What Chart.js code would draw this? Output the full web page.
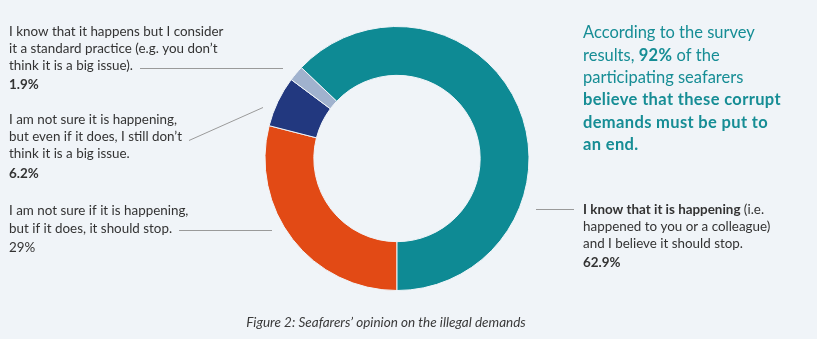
<!DOCTYPE html>
<html>
<head>
<meta charset="utf-8">
<script src="https://cdn.jsdelivr.net/npm/chart.js@4.4.1/dist/chart.umd.min.js"></script>
<style>
    html, body { margin: 0; padding: 0; background: #f0f4f8; }
    #wrap { position: relative; width: 817px; height: 339px; }
</style>
</head>
<body>
<div id="wrap"><canvas id="chartOpinion"></canvas></div>
<script>
// --- datos ---
const categories = [
    'I am not sure if it is happening, but if it does, it should stop.',
    'I am not sure it is happening, but even if it does, I still don\u2019t think it is a big issue.',
    'I know that it happens but I consider it a standard practice (e.g. you don\u2019t think it is a big issue).',
    'I know that it is happening (i.e. happened to you or a colleague) and I believe it should stop.'
];
const shares = [29, 6.2, 1.9, 62.9];
const sliceColors = ['#e24a15', '#22387f', '#a0b2ce', '#0e8a94'];

// texto de las etiquetas, linea por linea (runs: [texto, negrita])
const labelLines = [
    [[['I am not sure if it is happening,', false]], [['but if it does, it should stop.', false]]],
    [[['I am not sure it is happening,', false]], [['but even if it does, I still don\u2019t', false]], [['think it is a big issue.', false]]],
    [[['I know that it happens but I consider', false]], [['it a standard practice (e.g. you don\u2019t', false]], [['think it is a big issue).', false]]],
    [[['I know that it is happening', true], [' (i.e.', false]], [['happened to you or a colleague)', false]], [['and I believe it should stop.', false]]]
];
const pctBold = [false, true, true, true];

const noteLines = [
    [['According to the survey', false]],
    [['results, ', false], ['92%', true], [' of the', false]],
    [['participating seafarers', false]],
    [['believe that these corrupt', true]],
    [['demands must be put to', true]],
    [['an end.', true]]
];
const caption = 'Figure 2: Seafarers\u2019 opinion on the illegal demands';

const FONT = 'Lato, "Open Sans", sans-serif';
const TXT = '#333333';
const SIZE = 13.4;

// posicion de cada bloque de etiqueta y su linea guia
// from: linea de texto donde nace la guia (-1 = la guia va a la izquierda del bloque)
const labelBoxes = [
    { x: 9, y: 211, lh: 17.5, pctGap: 19, from: 1, dy: 1, end: [272, 230] },
    { x: 9, y: 120, lh: 17, pctGap: 20, from: 1, dy: 3, end: [263, 107] },
    { x: 9, y: 32, lh: 17, pctGap: 19, from: 2, dy: 2, end: [283, 68] },
    { x: 583, y: 210, lh: 17, pctGap: 19, from: -1, start: [536, 209], end: [574, 209] }
];

function drawRuns(ctx, runs, x, y, size, boldSpacing) {
    let cx = x;
    runs.forEach(([t, b]) => {
        ctx.font = (b ? 'bold ' : '') + size + 'px ' + FONT;
        if ('letterSpacing' in ctx) ctx.letterSpacing = (b && boldSpacing) ? boldSpacing : '0px';
        ctx.fillText(t, cx, y);
        cx += ctx.measureText(t).width;
    });
    if ('letterSpacing' in ctx) ctx.letterSpacing = '0px';
    return cx;
}

const textPlugin = {
    id: 'textPlugin',
    afterDraw(chart) {
        const ctx = chart.ctx;
        ctx.save();
        ctx.textBaseline = 'middle';
        ctx.textAlign = 'left';

        labelBoxes.forEach((b, i) => {
            ctx.fillStyle = TXT;
            let startPt = b.start;
            labelLines[i].forEach((runs, k) => {
                const ly = b.y + k * b.lh;
                const endX = drawRuns(ctx, runs, b.x, ly, SIZE);
                if (k === b.from) startPt = [endX + 7, ly + b.dy];
            });
            const lastY = b.y + (labelLines[i].length - 1) * b.lh + b.pctGap;
            drawRuns(ctx, [[shares[i] + '%', pctBold[i]]], b.x, lastY, SIZE);

            // linea guia
            ctx.strokeStyle = '#9a9a9a';
            ctx.lineWidth = 1;
            ctx.beginPath();
            ctx.moveTo(startPt[0], Math.round(startPt[1]) + 0.5);
            ctx.lineTo(b.end[0], b.end[1] + 0.5);
            ctx.stroke();
        });

        // nota en verde azulado
        ctx.fillStyle = '#168d95';
        noteLines.forEach((runs, k) => drawRuns(ctx, runs, 583, 33 + k * 22.3, 16.5, '0.35px'));

        // pie de figura
        ctx.fillStyle = '#3a3a3a';
        ctx.textAlign = 'center';
        ctx.font = 'italic 13.5px ' + FONT;
        ctx.fillText(caption, 386, 323);
        ctx.restore();
    }
};

const ctxOpinion = document.getElementById('chartOpinion');
new Chart(ctxOpinion, {
    type: 'doughnut',
    data: {
        labels: categories,
        datasets: [{
            data: shares,
            backgroundColor: sliceColors,
            borderColor: '#f0f4f8',
            borderWidth: 1
        }]
    },
    options: {
        responsive: true,
        maintainAspectRatio: false,
        animation: false,
        rotation: 180,
        cutout: '63%',
        layout: { padding: { left: 200, right: 223, top: 26, bottom: 48 } },
        plugins: {
            legend: { display: false },
            tooltip: { enabled: false }
        }
    },
    plugins: [textPlugin]
});
</script>
</body>
</html>
